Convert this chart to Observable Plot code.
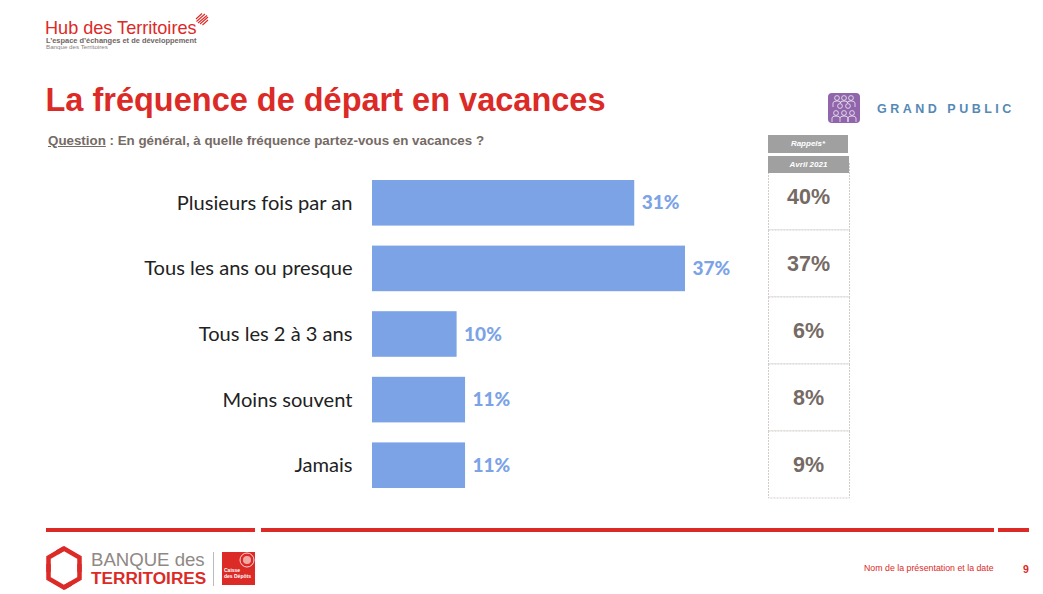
<!DOCTYPE html>
<html lang="fr"><head><meta charset="utf-8">
<script src="https://cdn.jsdelivr.net/npm/d3@7"></script>
<script src="https://cdn.jsdelivr.net/npm/@observablehq/plot@0.6"></script>
<style>
html,body{margin:0;padding:0;background:#fff;width:1043px;height:594px;overflow:hidden;font-family:"Liberation Sans",Arial,sans-serif}
.a{position:absolute;white-space:nowrap;line-height:1}
#chart,#rappels{position:absolute}
#chart{left:0;top:170px}
#rappels{left:767px;top:162px}
.bar{position:absolute;height:4px;background:#dc2a27;top:528px}
.hd{position:absolute;background:#a0a0a0;color:#fff;font-style:italic;font-weight:bold;font-size:8px;text-align:center}
</style></head><body>
<div class="a" style="left:45px;top:19px;font-size:18.1px;color:#dc2a27">Hub des Territoires</div>
<svg class="a" style="left:195px;top:12px" width="14" height="14" viewBox="0 0 14 14"><g stroke="#dc2a27" stroke-width="1.1"><path d="M1 7 7 1.5M1.5 9.5 10 2M3 11 12 3.5M5 12 13 5M7.5 13 13 8"/></g></svg>
<div class="a" style="left:46px;top:36.5px;font-size:7.45px;font-weight:bold;color:#6f6561">L’espace d’échanges et de développement</div>
<div class="a" style="left:46px;top:44px;font-size:6.2px;color:#8a817d">Banque des Territoires</div>
<div class="a" style="left:45.5px;top:84px;font-size:32.5px;font-weight:bold;color:#dc2a27">La fréquence de départ en vacances</div>
<div class="a" style="left:48px;top:133.5px;font-size:13.35px;font-weight:bold;color:#756a64"><u>Question</u> : En général, à quelle fréquence partez-vous en vacances ?</div>
<svg class="a" style="left:828px;top:93px" width="32" height="30" viewBox="0 0 32 30"><rect width="32" height="30" rx="4" fill="#9065ab"/><g fill="none" stroke="#fff" stroke-width=".7"><circle cx="9" cy="5" r="2.4"/><circle cx="16" cy="5" r="2.4"/><circle cx="23" cy="5" r="2.4"/><circle cx="12" cy="13" r="2.4"/><circle cx="20" cy="13" r="2.4"/><circle cx="8" cy="20" r="2.4"/><circle cx="16" cy="20" r="2.4"/><circle cx="24" cy="20" r="2.4"/><path d="M5 14V10q0-2 4-2t4 2M12 10q0-2 4-2t4 2M19 10q0-2 4-2t4 2v4M4 29v-4q0-2 4-2t4 2v4M12 25q0-2 4-2t4 2v4M20 29v-4q0-2 4-2t4 2v4"/></g></svg>
<div class="a" style="left:877px;top:103px;font-size:12.5px;font-weight:bold;letter-spacing:3.5px;color:#5589b5">GRAND PUBLIC</div>
<div id="rappels"></div>
<div class="hd" style="left:768px;top:135px;width:80px;height:18px;line-height:18px">Rappels*</div>
<div class="hd" style="left:768px;top:156px;width:81px;height:17px;line-height:17px">Avril 2021</div>
<div id="chart"></div>
<div class="bar" style="left:46px;width:209px"></div>
<div class="bar" style="left:261px;width:733px"></div>
<div class="bar" style="left:998px;width:31px"></div>
<svg class="a" style="left:45px;top:546px" width="38" height="44" viewBox="0 0 38 44"><path d="M12 6.5 19 2.5 34.5 11.5V26M26 37.5 19 41.5 3.5 32.5V18" fill="none" stroke="#dc2a27" stroke-width="4.5"/><path d="M34.5 18V32.5L19 41.5M3.5 26V11.5L19 2.5" fill="none" stroke="#dc2a27" stroke-width="4.5"/></svg>
<div class="a" style="left:91px;top:550.5px;font-size:18.6px;color:#8f8885">BANQUE des</div>
<div class="a" style="left:91px;top:569.5px;font-size:17.2px;font-weight:bold;color:#dc2a27">TERRITOIRES</div>
<div class="a" style="left:213px;top:552px;width:1px;height:34px;background:#bbb"></div>
<div class="a" style="left:222px;top:552px;width:33px;height:33px;background:#dc2a27"></div>
<svg class="a" style="left:238px;top:551px" width="18" height="18" viewBox="0 0 18 18"><circle cx="9" cy="9" r="7" fill="none" stroke="#fff" stroke-width=".8"/><circle cx="9" cy="9" r="4" fill="#f2a9a6"/></svg>
<div class="a" style="left:224px;top:567px;font-size:5px;font-weight:bold;color:#fff;line-height:6px;white-space:normal;width:30px">Caisse<br>des Dépôts</div>
<div class="a" style="left:864px;top:564px;font-size:8.8px;color:#dc2a27">Nom de la présentation et la date</div>
<div class="a" style="left:1023px;top:564px;font-size:10.5px;font-weight:bold;color:#dc2a27">9</div>
<script>
const categories = ["Plusieurs fois par an", "Tous les ans ou presque", "Tous les 2 à 3 ans", "Moins souvent", "Jamais"];
const values = [31, 37, 10, 11, 11];
const rappels = [40, 37, 6, 8, 9];
const rows = categories.map((c, i) => ({c, v: values[i], r: rappels[i]}));

const chart = Plot.plot({
  width: 1043, height: 330,
  marginLeft: 372, marginRight: 358, marginTop: 10, marginBottom: 12,
  style: {background: "transparent", overflow: "visible"},
  x: {domain: [0, 37], axis: null},
  y: {domain: categories, paddingInner: 0.305, paddingOuter: 0, round: false, label: null},
  marks: [
    Plot.axisY({tickSize: 0, tickPadding: 20, fontSize: 20.1, label: null, fill: "#222", fontFamily: "Lato"}),
    Plot.barX(rows, {x: "v", y: "c", fill: "#7ba3e6"}),
    Plot.text(rows, {x: "v", y: "c", text: d => d.v + "%", textAnchor: "start", dx: 7, fill: "#7ba3e6", fontSize: 19, fontWeight: 900, fontFamily: "Lato"})
  ]
});
document.getElementById("chart").append(chart);

const table = Plot.plot({
  width: 84, height: 337,
  margin: 0, marginTop: 1, marginBottom: 1,
  style: {background: "transparent"},
  x: {axis: null},
  y: {domain: categories, padding: 0, axis: null},
  marks: [
    Plot.barX(rows, {x1: 0, x2: 1, y: "c", fill: "#fff", stroke: "#d2cdca", strokeDasharray: "2 1", strokeWidth: 1, insetLeft: 1.5, insetRight: 1.5}),
    Plot.text(rows, {frameAnchor: "middle", y: "c", dx: -1, text: d => d.r + "%", fill: "#756a64", fontSize: 21.5, fontWeight: 700, fontFamily: "Liberation Sans"})
  ]
});
document.getElementById("rappels").append(table);
</script>
</body></html>
